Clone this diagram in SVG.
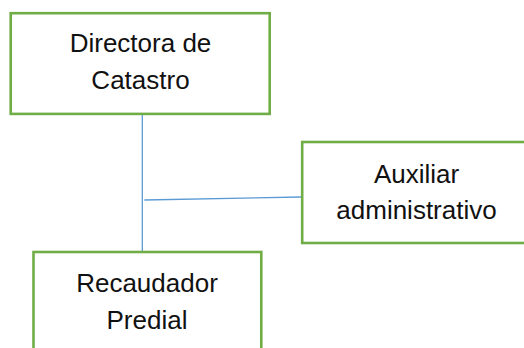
<svg xmlns="http://www.w3.org/2000/svg" width="524" height="348" viewBox="0 0 524 348">
<style>
.box{fill:#fff;stroke:#70AD47;stroke-width:2.6}
.lbl{font-family:"Liberation Sans",Arial,sans-serif;font-size:26px;fill:#111;text-anchor:middle}
.con{stroke:#5B9BD5;stroke-width:1.3;fill:none}
</style>
<rect width="524" height="348" fill="#fff"/>
<g id="connectors">
<line class="con" x1="142.3" y1="114" x2="142.3" y2="252"/>
<line class="con" x1="144.3" y1="200" x2="301" y2="197"/>
</g>
<g id="directora">
<rect class="box" x="10.7" y="13.2" width="259" height="100.7"/>
<text class="lbl" x="140.5" y="52">Directora de</text>
<text class="lbl" x="140.5" y="89">Catastro</text>
</g>
<g id="auxiliar">
<rect class="box" x="302.2" y="142" width="259" height="101"/>
<text class="lbl" x="416.5" y="183">Auxiliar</text>
<text class="lbl" x="416.5" y="219">administrativo</text>
</g>
<g id="recaudador">
<rect class="box" x="33.5" y="252" width="227.8" height="101"/>
<text class="lbl" x="147" y="291.5">Recaudador</text>
<text class="lbl" x="147" y="329">Predial</text>
</g>
</svg>
